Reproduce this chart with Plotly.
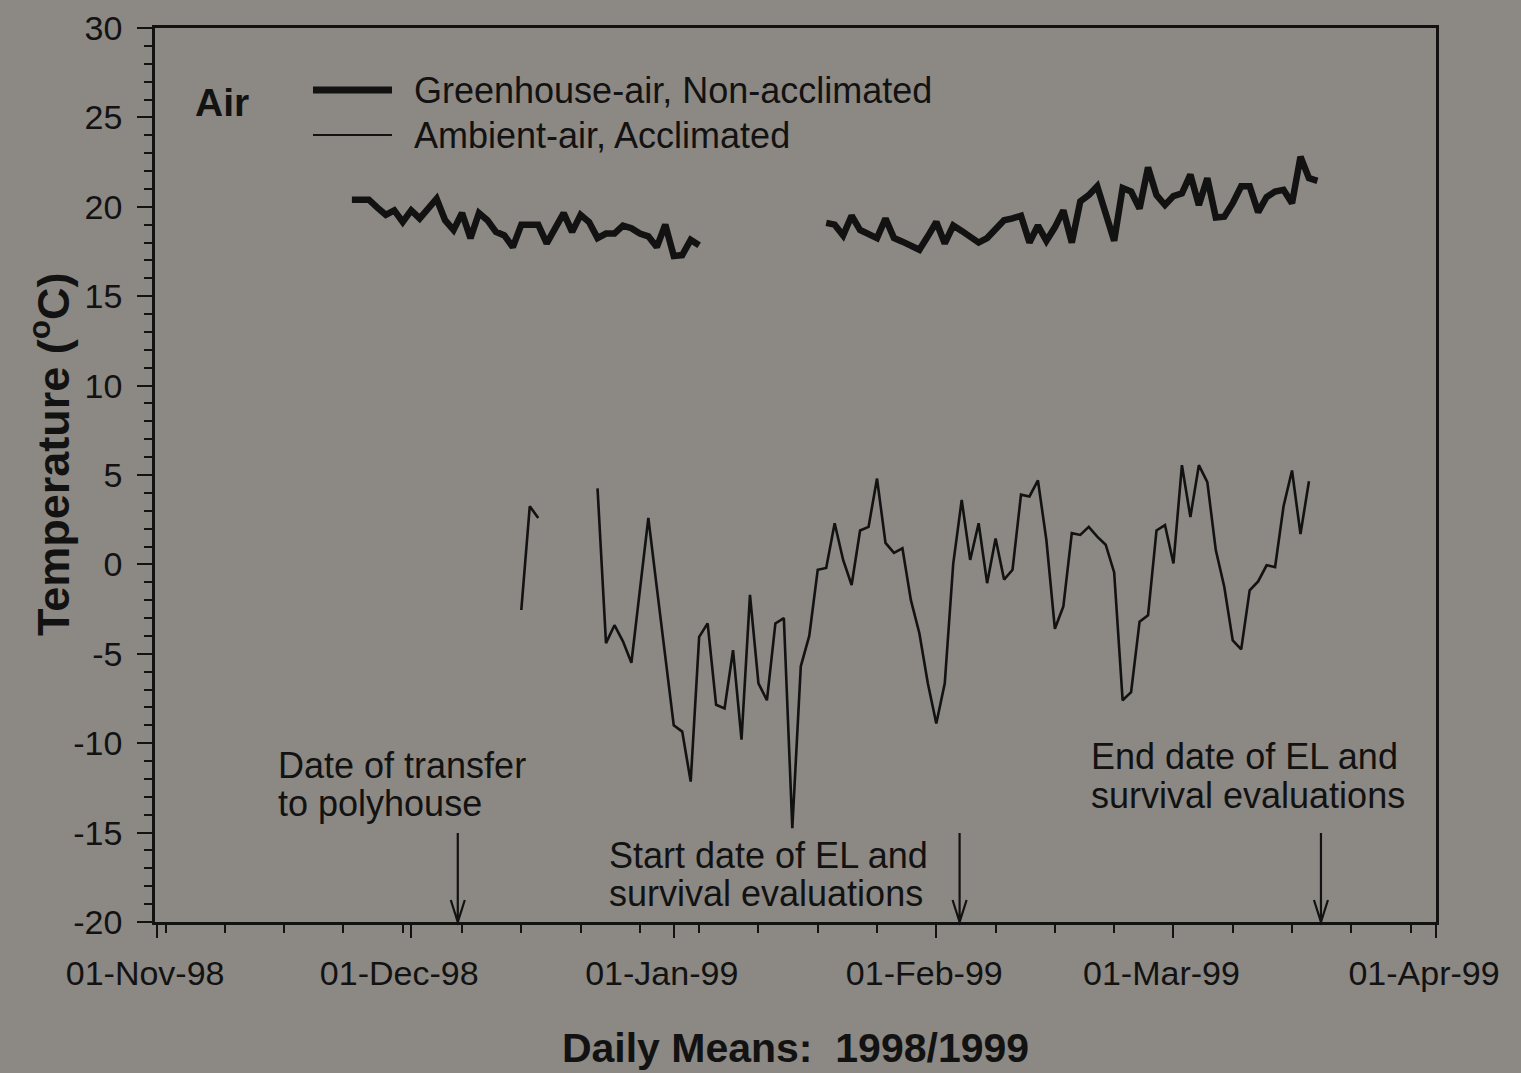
import pandas as pd
import plotly.graph_objects as go

# Daily mean air temperatures (deg C), 1998/1999 season
gh_start_1 = "1998-11-24"
gh_temps_1 = [20.4, 20.4, 20.4, 19.95, 19.55, 19.8, 19.15, 19.8, 19.35, 19.9,
              20.45, 19.25, 18.7, 19.65, 18.25, 19.65, 19.25, 18.6, 18.4, 17.75,
              19.0, 19.0, 19.0, 17.95, 18.8, 19.65, 18.6, 19.55, 19.15, 18.25,
              18.5, 18.5, 18.95, 18.8, 18.5, 18.35, 17.75, 19.0, 17.25, 17.3,
              18.15, 17.85]
gh_start_2 = "1999-01-19"
gh_temps_2 = [19.1, 19.0, 18.4, 19.5, 18.7, 18.5, 18.25, 19.35, 18.25, 18.05,
              17.85, 17.6, 18.35, 19.15, 17.95, 18.95, 18.65, 18.3, 18.0, 18.25,
              18.7, 19.25, 19.35, 19.5, 18.0, 18.95, 18.1, 18.85, 19.8, 18.0,
              20.3, 20.65, 21.15, 19.7, 18.1, 21.05, 20.85, 19.9, 22.2, 20.65,
              20.1, 20.6, 20.75, 21.8, 20.1, 21.6, 19.4, 19.45, 20.2, 21.15,
              21.15, 19.7, 20.55, 20.85, 20.95, 20.2, 22.8, 21.6, 21.45]

amb_start_1 = "1998-12-14"
amb_temps_1 = [-2.55, 3.25, 2.6]
amb_start_2 = "1998-12-23"
amb_temps_2 = [4.25, -4.4, -3.4, -4.3, -5.5, -1.5, 2.6, -1.3, -5.1, -9.0,
               -9.35, -12.15, -4.05, -3.3, -7.85, -8.05, -4.8, -9.8, -1.7, -6.65,
               -7.6, -3.3, -3.0, -14.75, -5.7, -4.0, -0.3, -0.2, 2.3, 0.25,
               -1.15, 1.9, 2.1, 4.8, 1.2, 0.65, 0.9, -2.0, -3.85, -6.65,
               -8.9, -6.65, 0.05, 3.6, 0.25, 2.3, -1.05, 1.45, -0.85, -0.3,
               3.9, 3.8, 4.7, 1.35, -3.6, -2.35, 1.75, 1.65, 2.1, 1.55,
               1.1, -0.45, -7.6, -7.15, -3.2, -2.85, 1.9, 2.2, 0.05, 5.55,
               2.65, 5.55, 4.6, 0.8, -1.25, -4.25, -4.75, -1.45, -0.95, -0.05,
               -0.15, 3.25, 5.25, 1.7, 4.65]

series_names = ["Greenhouse-air, Non-acclimated", "Ambient-air, Acclimated"]

event_dates = ["1998-12-06 12:00", "1999-02-03 18:00", "1999-03-18 10:00"]
event_labels = [["Date of transfer", "to polyhouse"],
                ["Start date of EL and", "survival evaluations"],
                ["End date of EL and", "survival evaluations"]]

y_ticks = list(range(-20, 31, 5))
y_tick_text = [str(v) for v in y_ticks]

x_range = ["1998-10-31 18:00", "1999-04-01 00:00"]
y_range = [-20, 30]

W, H = 1521, 1073
L, R, T, B = 155, 1436, 28, 922  # plot area edges in pixels

BG = "#8c8883"
INK = "#121212"
FONT = "Arial, 'Liberation Sans', sans-serif"


def join_segments(*segments):
    """Concatenate daily segments, breaking the line between them."""
    xs, ys = [], []
    for start, vals in segments:
        days = pd.date_range(start, periods=len(vals), freq="D")
        if xs:
            xs.append(xs[-1] + pd.Timedelta(days=1))
            ys.append(None)
        xs.extend(days)
        ys.extend(vals)
    return xs, ys


def px_x(px):
    return (px - L) / (R - L)


def px_y(py):
    return (B - py) / (B - T)


def date_x(d):
    t0, t1 = pd.Timestamp(x_range[0]), pd.Timestamp(x_range[1])
    return (pd.Timestamp(d) - t0) / (t1 - t0)


gh_x, gh_y = join_segments((gh_start_1, gh_temps_1), (gh_start_2, gh_temps_2))
amb_x, amb_y = join_segments((amb_start_1, amb_temps_1), (amb_start_2, amb_temps_2))

fig = go.Figure()
fig.add_trace(go.Scatter(x=gh_x, y=gh_y, mode="lines", name=series_names[0],
                         line=dict(color=INK, width=6.5), connectgaps=False,
                         showlegend=False))
fig.add_trace(go.Scatter(x=amb_x, y=amb_y, mode="lines", name=series_names[1],
                         line=dict(color=INK, width=2.6), connectgaps=False,
                         showlegend=False))

shapes = []
annotations = []

# legend keys and labels
for name, lw, py in [(series_names[0], 7, 90), (series_names[1], 2.2, 135)]:
    shapes.append(dict(type="line", xref="paper", yref="paper",
                       x0=px_x(313), x1=px_x(392), y0=px_y(py), y1=px_y(py),
                       line=dict(color=INK, width=lw)))
    annotations.append(dict(xref="paper", yref="paper", x=px_x(412), y=px_y(py),
                            text=name, showarrow=False, xanchor="left",
                            yanchor="middle",
                            font=dict(size=36, color=INK, family=FONT)))

annotations.append(dict(xref="paper", yref="paper", x=px_x(193), y=px_y(102),
                        text="<b>Air</b>", showarrow=False, xanchor="left",
                        yanchor="middle", font=dict(size=39, color=INK, family=FONT)))

# y-axis title, set beside the tick labels
annotations.append(dict(xref="paper", yref="paper", x=px_x(50), y=px_y(455),
                        text="<b>Temperature (<sup>o</sup>C)</b>", textangle=-90,
                        showarrow=False, xanchor="center", yanchor="middle",
                        font=dict(size=45, color=INK, family=FONT)))

# event arrows pointing down to the date axis
label_pos = [(276, 765, 803), (607, 855, 893), (1089, 756, 795)]
for d, lines, (lx, ly1, ly2) in zip(event_dates, event_labels, label_pos):
    xa = date_x(d)
    dx = 7 / (R - L)
    shapes.append(dict(
        type="path", xref="paper", yref="paper",
        path=(f"M {xa},{px_y(833)} L {xa},{px_y(B)} "
              f"M {xa - dx},{px_y(B - 22)} L {xa},{px_y(B)} L {xa + dx},{px_y(B - 22)}"),
        line=dict(color=INK, width=2.2)))
    for text, ly in zip(lines, (ly1, ly2)):
        annotations.append(dict(xref="paper", yref="paper", x=px_x(lx), y=px_y(ly),
                                text=text, showarrow=False, xanchor="left",
                                yanchor="middle",
                                font=dict(size=36, color=INK, family=FONT)))

fig.update_layout(
    width=W, height=H,
    margin=dict(l=L, r=W - R, t=T, b=H - B, autoexpand=False),
    paper_bgcolor=BG, plot_bgcolor=BG,
    font=dict(family=FONT, color=INK, size=34),
    shapes=shapes, annotations=annotations,
    showlegend=False,
)

fig.update_xaxes(
    type="date", range=x_range, autorange=False,
    tickmode="linear", tick0="1998-11-01", dtick="M1", tickformat="%d-%b-%y",
    ticks="outside", ticklen=13, tickwidth=2, tickcolor=INK,
    ticklabelstandoff=6, ticklabelshift=-12,
    minor=dict(tick0="1998-11-02", dtick=7 * 86400000, ticks="outside",
               ticklen=8, tickwidth=2, tickcolor=INK),
    showline=True, linecolor=INK, linewidth=2.5, mirror=True,
    showgrid=False, zeroline=False,
    tickfont=dict(size=34, color=INK, family=FONT),
    title=dict(text="<b>Daily Means:\u00a0\u00a01998/1999</b>",
               font=dict(size=41, color=INK, family=FONT), standoff=43),
    automargin=False,
)

fig.update_yaxes(
    range=y_range, autorange=False,
    tickmode="array", tickvals=y_ticks, ticktext=y_tick_text,
    ticks="outside", ticklen=15, tickwidth=2, tickcolor=INK,
    ticklabelstandoff=8,
    minor=dict(tickmode="linear", tick0=-20, dtick=1, ticks="outside",
               ticklen=8, tickwidth=2, tickcolor=INK),
    showline=True, linecolor=INK, linewidth=2.5, mirror=True,
    showgrid=False, zeroline=False,
    tickfont=dict(size=34, color=INK, family=FONT),
    automargin=False,
)

fig.write_html("out.html")
